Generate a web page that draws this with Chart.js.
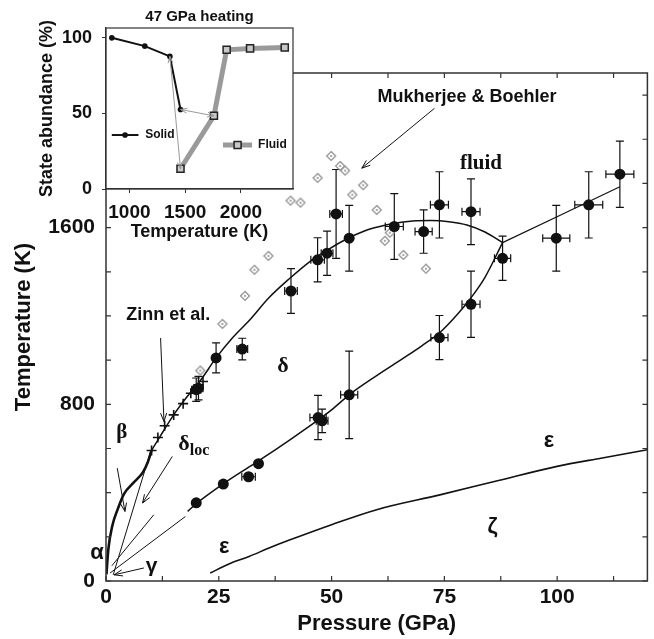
<!DOCTYPE html>
<html>
<head>
<meta charset="utf-8">
<script src="https://cdn.jsdelivr.net/npm/chart.js@4.4.1/dist/chart.umd.min.js"></script>
<style>
  body { margin: 0; background: #fff; }
  #wrap { position: relative; width: 654px; height: 639px; }
  #main, #inset { position: absolute; left: 0; top: 0; }
</style>
</head>
<body>
<div id="wrap">
  <canvas id="main" width="654" height="639"></canvas>
  <canvas id="inset" width="300" height="245"></canvas>
</div>
<script>
// ---- main phase diagram (P in GPa, T in K) ----
// measured points with error bars, melting line
var upperP    = [20.0, 20.5, 24.4, 30.2, 41.0, 46.9, 49.0, 51.0, 53.9, 63.9, 70.4, 73.9, 80.9, 87.9, 99.8, 107.0, 113.9];
var upperT    = [866, 873, 1010, 1050, 1313, 1454, 1484, 1662, 1552, 1605, 1582, 1703, 1672, 1461, 1552, 1703, 1842];
var upperPErr = [1.0, 1.0, 0.5, 1.2, 1.4, 1.5, 1.3, 1.4, 0.5, 2.0, 1.9, 2.0, 2.0, 1.8, 3.0, 3.1, 3.1];
var upperTErr = [53, 53, 68, 49, 101, 100, 100, 201, 149, 149, 98, 150, 149, 100, 149, 150, 150];
// measured points, delta-epsilon boundary
var lowerP    = [20.0, 26.0, 31.6, 33.8, 47.0, 47.9, 53.9, 73.9, 80.9];
var lowerT    = [354, 439, 472, 531, 740, 725, 843, 1102, 1253];
var lowerPErr = [0, 0, 1.5, 0, 1.8, 1.3, 1.9, 1.9, 2.0];
var lowerTErr = [0, 0, 0, 0, 100, 53, 198, 100, 150];
// Zinn et al.
var zinnP = [10.1, 11.5, 13.0, 15.0, 17.1, 18.8, 20.5, 21.5];
var zinnT = [591, 650, 703, 752, 803, 850, 888, 903];
// Mukherjee & Boehler
var mbP = [20.9, 25.8, 30.8, 32.9, 36.0, 40.9, 43.1, 46.9, 49.9, 51.9, 53.0, 54.6, 57.0, 60.0, 61.8, 62.9, 65.9, 70.9];
var mbT = [953, 1164, 1291, 1409, 1472, 1722, 1713, 1825, 1924, 1879, 1858, 1749, 1792, 1680, 1540, 1577, 1476, 1414];
// boundaries
var meltP = [10.1, 12, 15, 18, 21, 24.4, 28, 32, 36, 40.5, 45.7, 50, 54, 58, 64, 68, 72, 76, 80, 84, 87.9];
var meltT = [591, 655, 752, 835, 910, 1010, 1100, 1185, 1280, 1366, 1454, 1510, 1555, 1590, 1620, 1630, 1632, 1627, 1612, 1580, 1532];
var highP = [87.9, 113.9];
var highT = [1532, 1785];
var deltaEpsP = [18.1, 20, 26, 32, 38, 44, 50, 53.9, 60, 66, 70, 74, 78, 81, 84, 87.9];
var deltaEpsT = [315, 350, 440, 520, 600, 685, 775, 843, 930, 1010, 1065, 1125, 1210, 1285, 1375, 1532];
var deltaEpsLowP = [0.9, 17.6];
var deltaEpsLowT = [36, 292];
var epsZetaP = [23.1, 27, 31.7, 36, 40.5, 50, 60, 74, 87, 100, 110, 120];
var epsZetaT = [36, 75, 111, 148, 184, 255, 323, 390, 455, 519, 557, 594];
var betaP = [0.1, 0.5, 1.4, 2.5, 4.0, 6.0, 8.2, 9.3, 10.1];
var betaT = [30, 140, 250, 320, 395, 443, 493, 540, 591];
var gammaP = [1.6, 9.9];
var gammaT = [28, 588];
var locP = [1.3, 10.6];
var locT = [69, 300];

var xTicks = [0, 12.5, 25, 37.5, 50, 62.5, 75, 87.5, 100, 112.5];
var xTickLabels = [0, 25, 50, 75, 100];
var yTicks = [0, 200, 400, 600, 800, 1000, 1200, 1400, 1600, 1800, 2000, 2200];
var yTickLabels = [0, 800, 1600];

// ---- inset: 47 GPa heating ----
var solidTemp = [842, 1138, 1363, 1458];
var solidPct  = [100, 94.5, 87.7, 52.6];
var fluidTemp = [1458, 1758, 1872, 2082, 2393];
var fluidPct  = [13.4, 48.4, 92.1, 93.0, 93.6];
var insetXTicks = [1000, 1500, 2000];
var insetYTicks = [0, 50, 100];

var SANS = "'Liberation Sans', Arial, sans-serif";
var SERIF = "'Liberation Serif', 'Times New Roman', serif";
var INK = '#111';

function pts(xs, ys) {
    return xs.map(function (x, i) { return { x: x, y: ys[i] }; });
}

function curve(xs, ys, w) {
    return {
        type: 'line', data: pts(xs, ys), borderColor: INK, borderWidth: w,
        pointRadius: 0, fill: false, cubicInterpolationMode: 'monotone'
    };
}

function arrow(ctx, x1, y1, x2, y2, head, both) {
    var a = Math.atan2(y2 - y1, x2 - x1);
    ctx.beginPath();
    ctx.moveTo(x1, y1);
    ctx.lineTo(x2, y2);
    function tip(x, y, ang) {
        ctx.moveTo(x - head * Math.cos(ang - 0.35), y - head * Math.sin(ang - 0.35));
        ctx.lineTo(x, y);
        ctx.lineTo(x - head * Math.cos(ang + 0.35), y - head * Math.sin(ang + 0.35));
    }
    tip(x2, y2, a);
    if (both) tip(x1, y1, a + Math.PI);
    ctx.stroke();
}

// open grey diamond with a dot in the middle
function diamondIcon() {
    var c = document.createElement('canvas');
    c.width = 12; c.height = 12;
    var g = c.getContext('2d');
    g.strokeStyle = '#8c8c8c';
    g.lineWidth = 1.2;
    g.beginPath();
    g.moveTo(6, 1.5); g.lineTo(10.5, 6); g.lineTo(6, 10.5); g.lineTo(1.5, 6);
    g.closePath();
    g.fillStyle = '#fff';
    g.fill();
    g.stroke();
    g.fillStyle = '#777';
    g.fillRect(5.2, 5.2, 1.6, 1.6);
    return c;
}

var errorBars = {
    id: 'errorBars',
    beforeDatasetsDraw: function (chart) {
        var ctx = chart.ctx, x = chart.scales.x, y = chart.scales.y, cap = 4;
        ctx.save();
        ctx.strokeStyle = INK;
        ctx.lineWidth = 1.2;
        chart.data.datasets.forEach(function (ds) {
            if (!ds.xErr) return;
            ds.data.forEach(function (d, i) {
                var px = x.getPixelForValue(d.x), py = y.getPixelForValue(d.y);
                var ex = ds.xErr[i], ey = ds.yErr[i];
                ctx.beginPath();
                if (ey) {
                    var y1 = y.getPixelForValue(d.y - ey), y2 = y.getPixelForValue(d.y + ey);
                    ctx.moveTo(px, y1); ctx.lineTo(px, y2);
                    ctx.moveTo(px - cap, y1); ctx.lineTo(px + cap, y1);
                    ctx.moveTo(px - cap, y2); ctx.lineTo(px + cap, y2);
                }
                if (ex) {
                    var x1 = x.getPixelForValue(d.x - ex), x2 = x.getPixelForValue(d.x + ex);
                    ctx.moveTo(x1, py); ctx.lineTo(x2, py);
                    ctx.moveTo(x1, py - cap); ctx.lineTo(x1, py + cap);
                    ctx.moveTo(x2, py - cap); ctx.lineTo(x2, py + cap);
                }
                ctx.stroke();
            });
        });
        ctx.restore();
    }
};

// box around the plot plus inward ticks on all four sides
var frameTicks = {
    id: 'frameTicks',
    afterDraw: function (chart) {
        var ctx = chart.ctx, a = chart.chartArea, x = chart.scales.x, y = chart.scales.y, len = 5;
        ctx.save();
        ctx.strokeStyle = '#333';
        ctx.lineWidth = 1.2;
        ctx.beginPath();
        xTicks.forEach(function (v) {
            var p = x.getPixelForValue(v);
            ctx.moveTo(p, a.bottom); ctx.lineTo(p, a.bottom - len);
            ctx.moveTo(p, a.top); ctx.lineTo(p, a.top + len);
        });
        yTicks.forEach(function (v) {
            var p = y.getPixelForValue(v);
            ctx.moveTo(a.left, p); ctx.lineTo(a.left + len, p);
            ctx.moveTo(a.right, p); ctx.lineTo(a.right - len, p);
        });
        ctx.stroke();
        ctx.lineWidth = 1.5;
        ctx.strokeRect(a.left, a.top, a.right - a.left, a.bottom - a.top);
        ctx.restore();
    }
};

var mainNotes = [
    { text: 'Mukherjee & Boehler', p: 80.0, t: 2193, font: 'bold 18px ' + SANS },
    { text: 'fluid', p: 83.1, t: 1888, font: 'bold 21px ' + SERIF },
    { text: 'Zinn et al.', p: 13.8, t: 1205, font: 'bold 18px ' + SANS },
    { text: 'δ', p: 39.2, t: 972, font: 'bold 22px ' + SERIF },
    { text: 'β', p: 3.5, t: 670, font: 'bold 21px ' + SERIF },
    { text: 'δ', p: 17.3, t: 617, font: 'bold 22px ' + SERIF, sub: 'loc' },
    { text: 'α', p: -2.0, t: 129, font: 'bold 22px ' + SANS },
    { text: 'γ', p: 10.1, t: 65, font: 'bold 21px ' + SANS },
    { text: 'ε', p: 26.2, t: 156, font: 'bold 22px ' + SANS },
    { text: 'ε', p: 98.2, t: 636, font: 'bold 22px ' + SANS },
    { text: 'ζ', p: 85.7, t: 247, font: 'bold 22px ' + SANS }
];
var mainArrows = [
    [72.8, 2140, 56.7, 1869],
    [12.1, 1100, 12.85, 722],
    [2.5, 511, 4.2, 315],
    [14.7, 564, 8.1, 353],
    [8.4, 59, 1.8, 28]
];

var notes = {
    id: 'notes',
    afterDraw: function (chart) {
        var ctx = chart.ctx, x = chart.scales.x, y = chart.scales.y;
        ctx.save();
        ctx.fillStyle = INK;
        ctx.textBaseline = 'middle';
        mainNotes.forEach(function (n) {
            var px = x.getPixelForValue(n.p), py = y.getPixelForValue(n.t);
            ctx.font = n.font;
            ctx.textAlign = 'center';
            ctx.fillText(n.text, px, py);
            if (n.sub) {
                var w = ctx.measureText(n.text).width;
                ctx.font = 'bold 16px ' + SERIF;
                ctx.textAlign = 'left';
                ctx.fillText(n.sub, px + w / 2, py + 6);
            }
        });
        ctx.strokeStyle = INK;
        ctx.lineWidth = 1;
        mainArrows.forEach(function (r) {
            arrow(ctx, x.getPixelForValue(r[0]), y.getPixelForValue(r[1]),
                  x.getPixelForValue(r[2]), y.getPixelForValue(r[3]), 9, false);
        });
        ctx.restore();
    }
};

var upper = {
    data: pts(upperP, upperT), xErr: upperPErr, yErr: upperTErr,
    pointRadius: 5.5, pointBackgroundColor: INK, pointBorderWidth: 0
};
var lower = {
    data: pts(lowerP, lowerT), xErr: lowerPErr, yErr: lowerTErr,
    pointRadius: 5.5, pointBackgroundColor: INK, pointBorderWidth: 0
};

new Chart(document.getElementById('main'), {
    type: 'scatter',
    data: {
        datasets: [
            upper,
            lower,
            { data: pts(zinnP, zinnT), pointStyle: 'cross', pointRadius: 5, pointRotation: 0,
              pointBorderColor: INK, pointBorderWidth: 1.6 },
            { data: pts(mbP, mbT), pointStyle: diamondIcon() },
            curve(meltP, meltT, 1.5),
            curve(highP, highT, 1.2),
            curve(deltaEpsP, deltaEpsT, 1.5),
            curve(deltaEpsLowP, deltaEpsLowT, 1),
            curve(epsZetaP, epsZetaT, 1.6),
            curve(betaP, betaT, 2.6),
            curve(gammaP, gammaT, 1),
            curve(locP, locT, 1)
        ]
    },
    options: {
        responsive: false,
        animation: false,
        events: [],
        layout: { padding: { top: 73, right: 6, left: 0, bottom: 0 } },
        plugins: { legend: { display: false }, tooltip: { enabled: false } },
        scales: {
            x: {
                type: 'linear', min: 0, max: 120,
                afterBuildTicks: function (s) { s.ticks = xTicks.map(function (v) { return { value: v }; }); },
                afterFit: function (s) { s.height = 58; },
                grid: { display: false, drawTicks: false },
                border: { display: false },
                ticks: {
                    autoSkip: false, maxRotation: 0, padding: 4, color: INK,
                    font: { family: SANS, size: 21, weight: 'bold' },
                    callback: function (v) { return xTickLabels.indexOf(v) >= 0 ? String(v) : ''; }
                },
                title: { display: true, text: 'Pressure (GPa)', color: INK,
                         font: { family: SANS, size: 22, weight: 'bold' }, padding: { top: 0, bottom: 2 } }
            },
            y: {
                type: 'linear', min: 0, max: 2300,
                afterBuildTicks: function (s) { s.ticks = yTicks.map(function (v) { return { value: v }; }); },
                afterFit: function (s) { s.width = 106; },
                grid: { display: false, drawTicks: false },
                border: { display: false },
                ticks: {
                    autoSkip: false, padding: 11, color: INK,
                    font: { family: SANS, size: 21, weight: 'bold' },
                    callback: function (v) { return yTickLabels.indexOf(v) >= 0 ? String(v) : ''; }
                },
                title: { display: true, text: 'Temperature (K)', color: INK,
                         font: { family: SANS, size: 22, weight: 'bold' }, padding: { top: 11, bottom: 0 } }
            }
        }
    },
    plugins: [errorBars, frameTicks, notes]
});

// ---- inset ----
var insetBox = {
    id: 'insetBox',
    beforeDraw: function (chart) {
        var ctx = chart.ctx, a = chart.chartArea;
        ctx.save();
        ctx.fillStyle = '#fff';
        ctx.fillRect(a.left, a.top, a.right - a.left, a.bottom - a.top);
        ctx.restore();
    },
    afterDatasetsDraw: function (chart) {
        var ctx = chart.ctx, a = chart.chartArea, x = chart.scales.x, y = chart.scales.y;
        ctx.save();
        // transition arrows
        ctx.strokeStyle = '#9a9a9a';
        ctx.lineWidth = 1;
        arrow(ctx, x.getPixelForValue(solidTemp[2]), y.getPixelForValue(solidPct[2]),
              x.getPixelForValue(fluidTemp[0]), y.getPixelForValue(fluidPct[0]), 7, true);
        arrow(ctx, x.getPixelForValue(solidTemp[3]), y.getPixelForValue(solidPct[3]),
              x.getPixelForValue(fluidTemp[1]), y.getPixelForValue(fluidPct[1]), 7, true);
        // legend
        var ly = y.getPixelForValue(35.7);
        ctx.strokeStyle = INK;
        ctx.lineWidth = 2;
        ctx.beginPath();
        ctx.moveTo(x.getPixelForValue(842), ly); ctx.lineTo(x.getPixelForValue(1081), ly);
        ctx.stroke();
        ctx.fillStyle = INK;
        ctx.beginPath();
        ctx.arc(x.getPixelForValue(961), ly, 2.8, 0, Math.PI * 2);
        ctx.fill();
        ctx.font = 'bold 12px ' + SANS;
        ctx.textBaseline = 'middle';
        ctx.textAlign = 'left';
        ctx.fillText('Solid', x.getPixelForValue(1141), ly);
        var fy = y.getPixelForValue(29.1);
        ctx.strokeStyle = '#9a9a9a';
        ctx.lineWidth = 5;
        ctx.beginPath();
        ctx.moveTo(x.getPixelForValue(1839), fy); ctx.lineTo(x.getPixelForValue(2100), fy);
        ctx.stroke();
        var sx = x.getPixelForValue(1970);
        ctx.fillStyle = '#c8c8c8';
        ctx.fillRect(sx - 3.5, fy - 3.5, 7, 7);
        ctx.strokeStyle = '#222';
        ctx.lineWidth = 1.5;
        ctx.strokeRect(sx - 3.5, fy - 3.5, 7, 7);
        ctx.fillStyle = INK;
        ctx.fillText('Fluid', x.getPixelForValue(2154), fy);
        // frame
        ctx.strokeStyle = '#333';
        ctx.lineWidth = 1.2;
        ctx.strokeRect(a.left, a.top, a.right - a.left, a.bottom - a.top);
        ctx.restore();
    }
};

new Chart(document.getElementById('inset'), {
    type: 'scatter',
    data: {
        datasets: [
            { data: pts(solidTemp, solidPct), showLine: true, borderColor: INK, borderWidth: 2,
              pointRadius: 2.8, pointBackgroundColor: INK, pointBorderWidth: 0 },
            { data: pts(fluidTemp, fluidPct), showLine: true, borderColor: '#9a9a9a', borderWidth: 5,
              pointStyle: 'rect', pointRadius: 5, pointBackgroundColor: '#c8c8c8',
              pointBorderColor: '#222', pointBorderWidth: 1.5 }
        ]
    },
    options: {
        responsive: false,
        animation: false,
        events: [],
        layout: { padding: { top: 0, right: 7, left: 0, bottom: 0 } },
        plugins: {
            legend: { display: false },
            tooltip: { enabled: false },
            title: { display: true, text: '47 GPa heating', color: INK, fullSize: false,
                     font: { family: SANS, size: 15, weight: 'bold' }, padding: { top: 8, bottom: 2 } }
        },
        scales: {
            x: {
                type: 'linear', min: 790, max: 2467,
                afterBuildTicks: function (s) { s.ticks = insetXTicks.map(function (v) { return { value: v }; }); },
                afterFit: function (s) { s.height = 56; },
                grid: { drawOnChartArea: false, drawTicks: true, tickLength: 4, color: '#333' },
                border: { color: '#333', width: 1.2 },
                ticks: { autoSkip: false, maxRotation: 0, padding: 8, color: INK,
                         font: { family: SANS, size: 19, weight: 'bold' },
                         callback: function (v) { return String(v); } },
                title: { display: true, text: 'Temperature (K)', color: INK,
                         font: { family: SANS, size: 18, weight: 'bold' }, padding: { top: 0, bottom: 2.5 } }
            },
            y: {
                type: 'linear', min: 0, max: 106.5,
                afterBuildTicks: function (s) { s.ticks = insetYTicks.map(function (v) { return { value: v }; }); },
                afterFit: function (s) { s.width = 106; },
                grid: { drawOnChartArea: false, drawTicks: true, tickLength: 4, color: '#333' },
                border: { color: '#333', width: 1.2 },
                ticks: { autoSkip: false, padding: 10, color: INK,
                         font: { family: SANS, size: 18, weight: 'bold' },
                         callback: function (v) { return String(v); } },
                title: { display: true, text: 'State abundance (%)', color: INK,
                         font: { family: SANS, size: 18, weight: 'bold' }, padding: { top: 36, bottom: 0 } }
            }
        }
    },
    plugins: [insetBox]
});
</script>
</body>
</html>
